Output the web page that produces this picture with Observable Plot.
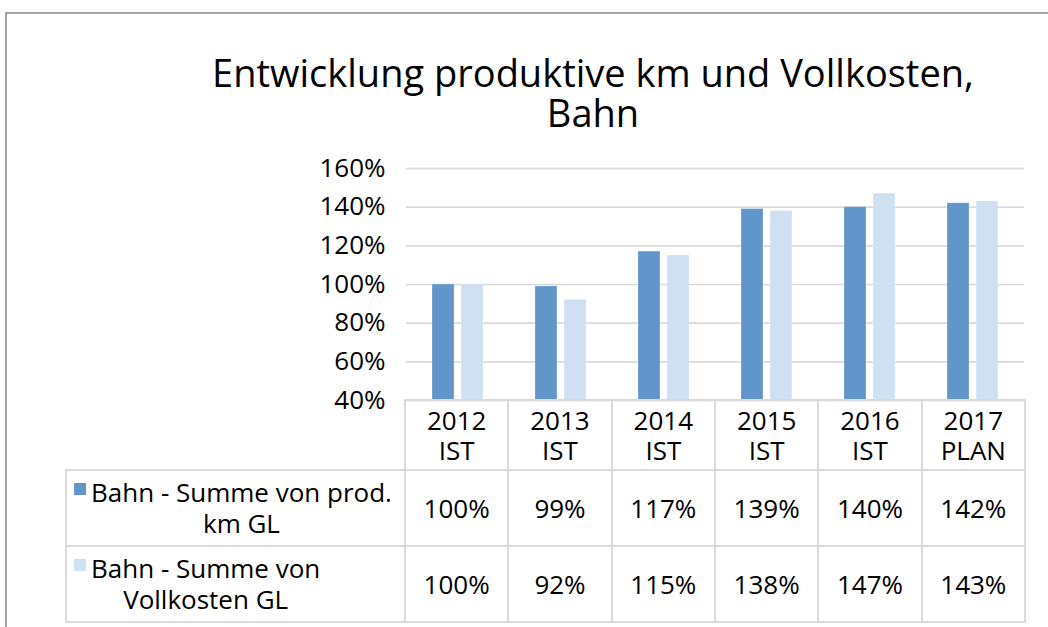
<!DOCTYPE html>
<html><head><meta charset="utf-8">
<script src="https://cdn.jsdelivr.net/npm/d3@7"></script>
<script src="https://cdn.jsdelivr.net/npm/@observablehq/plot@0.6"></script>
<style>
html,body{margin:0;padding:0;background:#fff;}
#root{position:relative;width:1048px;height:627px;overflow:hidden;font-family:"Open Sans",sans-serif;color:#000;}
#frame{position:absolute;left:5px;top:12px;width:1100px;height:700px;border:2px solid #a6a6a6;}
#title{position:absolute;left:143px;width:900px;top:52px;text-align:center;font-size:38px;line-height:40px;}
#chart{position:absolute;left:0;top:150px;}
.cell{position:absolute;box-sizing:border-box;border:2px solid #d9d9d9;display:flex;align-items:center;justify-content:center;text-align:center;font-size:26px;line-height:30px;}
.lab{justify-content:flex-start;padding-left:7px;line-height:31px;}
.grp{display:flex;align-items:flex-start;}
.key{width:12px;height:12px;flex:none;margin-top:6px;margin-right:5px;}
</style></head><body><div id="root"><div id="frame"></div>
<div id="title">Entwicklung produktive km und Vollkosten,<br>Bahn</div>
<div id="chart"></div></div>
<script>
const years = ["2012","2013","2014","2015","2016","2017"];
const status = ["IST","IST","IST","IST","IST","PLAN"];
const seriesNames = ["Bahn - Summe von prod. km GL","Bahn - Summe von Vollkosten GL"];
const seriesLines = [["Bahn - Summe von prod.","km GL"],["Bahn - Summe von","Vollkosten GL"]];
const prodKm = [100,99,117,139,140,142];
const vollkosten = [100,92,115,138,147,143];
const yTicks = [40,60,80,100,120,140,160];
const colors = ["#6295c9","#cfe0f3"];

const categories = years.map((y,i)=>y+" "+status[i]);
const seriesValues = [prodKm, vollkosten];
const data = [];
seriesValues.forEach((vals,s)=>vals.forEach((v,i)=>data.push({cat:categories[i],series:seriesNames[s],value:v})));

const W=1048, mL=405, mR=23, H=268, mT=18, mB=18;
const plot = Plot.plot({
  width:W, height:H, marginLeft:mL, marginRight:mR, marginTop:mT, marginBottom:mB,
  style:{fontSize:"26px",fontFamily:"Open Sans",color:"#000",background:"transparent",overflow:"visible"},
  fx:{domain:categories,padding:0,axis:null,label:null},
  x:{domain:seriesNames,paddingInner:0.233,paddingOuter:0.84,axis:null},
  y:{domain:[40,160],ticks:yTicks,tickFormat:d=>d+"%",tickSize:0,tickPadding:21,label:null},
  color:{domain:seriesNames,range:colors},
  marks:[
    Plot.ruleY(yTicks,{stroke:"#d9d9d9",strokeWidth:1.6}),
    Plot.barY(data,{fx:"cat",x:"series",y1:40,y2:"value",fill:"series",stroke:"#ffffff",strokeOpacity:0.25,strokeWidth:1})
  ]
});
document.getElementById("chart").appendChild(plot);

// data table
const root = d3.select("#root");
const step = (W-mL-mR)/categories.length;
const colX = [66, ...categories.map((_,i)=>mL+i*step)];
const rowY = [400,470,546,622];
function cell(x0,x1,y0,y1,cls){
  return root.append("div").attr("class","cell "+(cls||""))
    .style("left",(x0-1)+"px").style("top",(y0-1)+"px")
    .style("width",(x1-x0+2)+"px").style("height",(y1-y0+2)+"px");
}
categories.forEach((c,i)=>{
  cell(colX[i+1],colX[i+1]+step,rowY[0],rowY[1]).html(years[i]+"<br>"+status[i]);
});
seriesNames.forEach((s,r)=>{
  const lc = cell(colX[0],colX[1],rowY[r+1],rowY[r+2],"lab");
  const g = lc.append("div").attr("class","grp");
  g.append("div").attr("class","key").style("background",colors[r]);
  g.append("div").style("text-align","center").html(seriesLines[r].join("<br>"));
  seriesValues[r].forEach((v,i)=>{
    cell(colX[i+1],colX[i+1]+step,rowY[r+1],rowY[r+2]).text(v+"%");
  });
});
</script></body></html>
